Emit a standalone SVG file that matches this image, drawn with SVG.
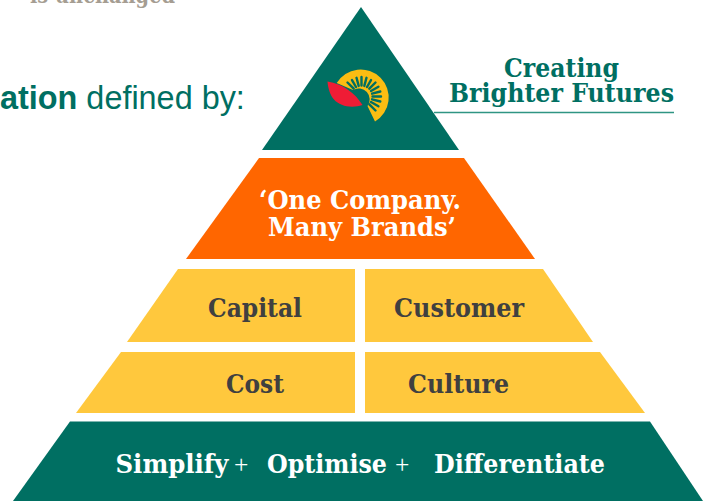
<svg xmlns="http://www.w3.org/2000/svg" width="703" height="501" viewBox="0 0 703 501">
<style>
.t{font-family:"DejaVu Serif","Liberation Serif",serif;font-weight:700;text-anchor:middle;font-size:25.500px}
.d{fill:#404040}
.w{fill:#fff}
.g{fill:#006f62}
.y{fill:#ffc83d}
</style>
<rect width="703" height="501" fill="#fff"/>
<text x="30" y="3" font-family="DejaVu Serif,serif" font-weight="700" font-size="22" textLength="145" lengthAdjust="spacingAndGlyphs" fill="#a59d92">is unchanged</text>
<text x="0" y="109" font-family="Liberation Sans,Arial,sans-serif" font-size="32.400" fill="#006f62"><tspan font-weight="700">ation</tspan> defined by:</text>
<g id="apex">
<polygon class="g" points="361,7 459,150 262,150"/>
<g id="logo">
<path d="M336.700 83 A28 28 0 1 1 375 121.500 L367.500 106 A11 11 0 0 0 353 90 Z" fill="#fbbd12"/>
<g stroke="#006f62" stroke-width="2.400" stroke-linecap="round" transform="translate(-0.500,-0.500)">
<path d="M354.200 89.200L348 83M356.500 87.500L352.500 80.600M359.200 86.400L357 78.300M362 86L362 77.500M364.800 86.400L367 78.300M367.500 87.500L371.500 80.600M369.800 89.200L376 83M371.500 91.500L378.900 87.200M372.600 94.200L380.800 92M373 97L381.500 97M372.600 99.800L380.800 102M371.500 102.500L378.900 106.800M369.800 104.800L376 111"/>
</g>
<path d="M327.500 81.500 C343 84 355 93 362.500 105 C352 108.500 340 106.500 334 99.500 C330 95 328 88 327.500 81.500 Z" fill="#ef1c35"/>
</g>
</g>
<g id="tagline">
<text class="t g" x="561.500" y="77" textLength="115" lengthAdjust="spacingAndGlyphs">Creating</text>
<text class="t g" x="561.500" y="101.500" textLength="225" lengthAdjust="spacingAndGlyphs">Brighter Futures</text>
<line x1="434" y1="112.500" x2="674" y2="112.500" stroke="#2f9583" stroke-width="1.500"/>
</g>
<g id="brands">
<polygon points="259,158 464,158 535,259 186,259" fill="#ff6600"/>
<text class="t w" x="360" y="209" textLength="202" lengthAdjust="spacingAndGlyphs">‘One Company.</text>
<text class="t w" x="362" y="236" textLength="188" lengthAdjust="spacingAndGlyphs">Many Brands’</text>
</g>
<g id="capital">
<polygon class="y" points="178,269 355,269 355,342 127,342"/>
<text class="t d" x="255" y="316.500" textLength="94" lengthAdjust="spacingAndGlyphs">Capital</text>
</g>
<g id="customer">
<polygon class="y" points="365,269 543,269 593,342 365,342"/>
<text class="t d" x="459" y="316.500" textLength="130" lengthAdjust="spacingAndGlyphs">Customer</text>
</g>
<g id="cost">
<polygon class="y" points="121,352 355,352 355,413 76,413"/>
<text class="t d" x="255" y="393" textLength="58" lengthAdjust="spacingAndGlyphs">Cost</text>
</g>
<g id="culture">
<polygon class="y" points="365,352 600,352 645,413 365,413"/>
<text class="t d" x="458.500" y="393" textLength="101" lengthAdjust="spacingAndGlyphs">Culture</text>
</g>
<g id="base">
<polygon class="g" points="70,421.500 650,421.500 703,501 13,501"/>
<text class="t w" y="473" style="text-anchor:start"><tspan x="115.500" textLength="113" lengthAdjust="spacingAndGlyphs">Simplify</tspan><tspan x="234" font-weight="400" font-family="Liberation Serif,serif">+</tspan><tspan x="267" textLength="120" lengthAdjust="spacingAndGlyphs">Optimise</tspan><tspan x="395" font-weight="400" font-family="Liberation Serif,serif">+</tspan><tspan x="434" textLength="171" lengthAdjust="spacingAndGlyphs">Differentiate</tspan></text>
</g>
<g id="connectors"></g>
</svg>
